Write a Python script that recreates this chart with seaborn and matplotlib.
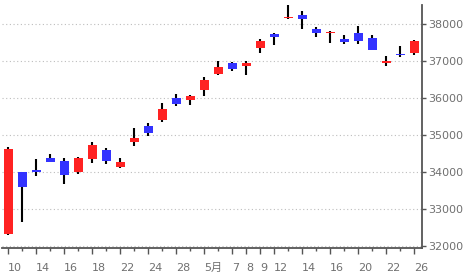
import numpy as np
import pandas as pd
import matplotlib
matplotlib.use("Agg")
import matplotlib.pyplot as plt
import seaborn as sns
from matplotlib.ticker import FixedLocator

# ---- data (Nikkei-style daily OHLC) ----
dates = ["4/10", "4/11", "4/14", "4/15", "4/16", "4/17", "4/18", "4/21", "4/22", "4/23",
         "4/24", "4/25", "4/28", "4/30", "5/1", "5/2", "5/7", "5/8", "5/9", "5/12",
         "5/13", "5/14", "5/15", "5/16", "5/19", "5/20", "5/21", "5/22", "5/23", "5/26"]
opens = [32320, 33990, 34040, 34370, 34290, 33990, 34350, 34590, 34130, 34810,
         35235, 35406, 35992, 35940, 36210, 36640, 36938, 36860, 37343, 37722,
         38160, 38236, 37857, 37750, 37587, 37749, 37614, 36940, 37181, 37208]
highs = [34680, 34000, 34340, 34490, 34370, 34400, 34790, 34640, 34370, 35180,
         35317, 35857, 36100, 36075, 36560, 36990, 36965, 36990, 37587, 37749,
         38500, 38344, 37911, 37803, 37695, 37938, 37695, 37127, 37398, 37560]
lows = [32300, 32650, 33890, 34260, 33670, 33940, 34240, 34220, 34100, 34700,
        34973, 35352, 35784, 35810, 36046, 36610, 36722, 36614, 37208, 37425,
        38128, 37857, 37641, 37479, 37452, 37452, 37290, 36857, 37100, 37154]
closes = [34610, 33586, 33982, 34267, 33920, 34377, 34730, 34280, 34250, 34900,
          35054, 35705, 35839, 36045, 36470, 36840, 36779, 36930, 37520, 37644,
          38190, 38128, 37755, 37775, 37500, 37530, 37299, 37000, 37160, 37531]
tick_labels = ["10", "", "14", "", "16", "", "18", "", "22", "", "24", "", "28", "",
               "5月", "", "7", "8", "9", "12", "", "14", "", "16", "", "20", "", "22", "", "26"]
y_ticks = [32000, 33000, 34000, 35000, 36000, 37000, 38000]

UP = "#ff2222"
DOWN = "#3333ff"
AXC = "#555555"
TXT = "#707070"

sns.set_theme(style="white")
plt.rcParams["font.family"] = ["DejaVu Sans", "Noto Sans CJK JP"]

df = pd.DataFrame(dict(date=dates, open=opens, high=highs, low=lows, close=closes))
df["pos"] = np.arange(len(df))
df["up"] = df["close"] >= df["open"]
df["bottom"] = df[["open", "close"]].min(axis=1)
df["height"] = (df["close"] - df["open"]).abs().clip(lower=25)
colors = [UP if u else DOWN for u in df["up"]]

fig = plt.figure(figsize=(4.7, 2.78), dpi=100)
ax = fig.add_axes([0.00426, 0.1097, 0.8929, 0.8723])

# wicks and bodies
ax.vlines(df["pos"], df["low"], df["high"], color="black", linewidth=1.5, zorder=2)
ax.bar(df["pos"], df["height"], bottom=df["bottom"], width=0.64, color=colors,
       linewidth=0, zorder=3)

ax.set_xlim(-0.45, 29.53)
ax.set_ylim(31951, 38506)

# grid
ax.set_yticks(y_ticks)
ax.yaxis.grid(True, color="#bdbdbd", linewidth=0.8, linestyle=(0, (1, 2.3)))
ax.xaxis.grid(False)
ax.set_axisbelow(True)

# y axis on right
ax.yaxis.tick_right()
ax.set_yticklabels([str(v) for v in y_ticks])
ax.tick_params(axis="y", which="major", right=True, left=False, length=3, width=1,
               color=AXC, pad=1.7, labelsize=8, labelcolor=TXT)

# x axis ticks
major_pos = [i for i, t in enumerate(tick_labels) if t]
minor_pos = [i for i, t in enumerate(tick_labels) if not t]
ax.xaxis.set_major_locator(FixedLocator(major_pos))
ax.xaxis.set_minor_locator(FixedLocator(minor_pos))
ax.set_xticklabels([tick_labels[i] for i in major_pos])
ax.tick_params(axis="x", which="major", bottom=True, length=4.1, width=1, color=AXC,
               pad=7, labelsize=8, labelcolor=TXT)
ax.tick_params(axis="x", which="minor", bottom=True, length=2.4, width=1, color=AXC)
for lbl in ax.get_xticklabels():
    lbl.set_ha("left")

for s in ["left", "top"]:
    ax.spines[s].set_visible(False)
for s in ["right", "bottom"]:
    ax.spines[s].set_color(AXC)
    ax.spines[s].set_linewidth(1.3)

ax.set_xlabel("")
ax.set_ylabel("")
fig.savefig("out.png", dpi=100)
